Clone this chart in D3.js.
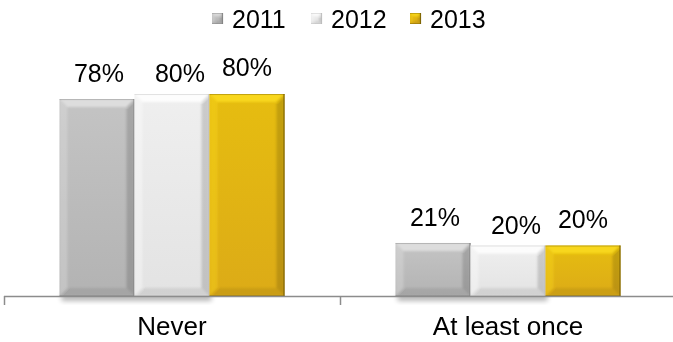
<!DOCTYPE html>
<html>
<head>
<meta charset="utf-8">
<script src="https://cdn.jsdelivr.net/npm/d3@7"></script>
<style>
  html, body { margin: 0; padding: 0; background: #fff; }
  svg { display: block; font-family: "Liberation Sans", Arial, sans-serif; }
</style>
</head>
<body>
<svg id="chart" width="673" height="342"></svg>
<script>
// Survey answers by year
const categories = ["Never", "At least once"];
const years = ["2011", "2012", "2013"];
const values2011 = [78, 21];
const values2012 = [80, 20];
const values2013 = [80, 20];
const seriesValues = [values2011, values2012, values2013];

// Bar palettes: gradient top/bottom, bevel highlight, edge
const palette = [
  { top: "#c4c4c4", bottom: "#b3b3b3", hi: "#e2e2e2", edge: "#7d7d7d" },
  { top: "#efefef", bottom: "#e3e3e3", hi: "#ffffff", edge: "#b9b9b9" },
  { top: "#e6bd10", bottom: "#dcab17", hi: "#fbdc20", edge: "#6e5800" }
];
// Small per-series label nudges
const labelDx = [2, 8, 0];
const labelDy = [0, 5, -1];

const svg = d3.select("#chart");
const W = 673, H = 342;
const baseY = 296;

const x = d3.scaleBand().domain(categories).range([4, 676]).padding(0);
const xs = d3.scaleBand().domain(years).range([0, x.bandwidth()]).paddingInner(0).paddingOuter(0.74);
const y = d3.scaleLinear().domain([0, 100]).range([baseY, 43.5]);

const defs = svg.append("defs");
palette.forEach((p, i) => {
  const g = defs.append("linearGradient").attr("id", "grad" + i)
    .attr("x1", 0).attr("y1", 0).attr("x2", 0).attr("y2", 1);
  g.append("stop").attr("offset", "0%").attr("stop-color", p.top);
  g.append("stop").attr("offset", "100%").attr("stop-color", p.bottom);
});
defs.append("filter").attr("id", "soft").attr("x", "-10%").attr("y", "-10%").attr("width", "120%").attr("height", "120%")
  .append("feGaussianBlur").attr("stdDeviation", 1.3);
defs.append("filter").attr("id", "shadow").attr("x", "-20%").attr("y", "-50%").attr("width", "140%").attr("height", "200%")
  .append("feGaussianBlur").attr("stdDeviation", 2.5);

// Build flat bar list
const bars = [];
categories.forEach((c, ci) => {
  years.forEach((yr, si) => {
    bars.push({ cat: c, year: yr, si, value: seriesValues[si][ci] });
  });
});

// Soft shadow under the bars
const shadowG = svg.append("g");
categories.forEach(c => {
  const x0 = x(c) + xs(years[0]);
  const x1 = x(c) + xs(years[1]) + xs.bandwidth();
  shadowG.append("rect")
    .attr("x", x0 + 2).attr("y", baseY - 2)
    .attr("width", x1 - x0).attr("height", 7)
    .attr("fill", "#000").attr("opacity", 0.28)
    .attr("filter", "url(#shadow)");
});

// Bevelled bar drawing
function bevel(g, x0, y0, w, h, i, size) {
  const x1 = x0 + w, y1 = y0 + h;
  const b = Math.min(size, w / 2, h / 2);
  const clipId = "clip" + g.attr("data-k");
  defs.append("clipPath").attr("id", clipId)
    .append("rect").attr("x", x0).attr("y", y0).attr("width", w).attr("height", h);
  g.append("rect").attr("x", x0).attr("y", y0).attr("width", w).attr("height", h)
    .attr("fill", "url(#grad" + i + ")");
  const ov = g.append("g").attr("clip-path", "url(#" + clipId + ")")
    .append("g").attr("filter", "url(#soft)");
  const poly = pts => pts.map(p => p.join(",")).join(" ");
  ov.append("polygon").attr("points", poly([[x0, y0], [x1, y0], [x1 - b, y0 + b], [x0 + b, y0 + b]]))
    .attr("fill", palette[i].hi).attr("opacity", 0.85);
  ov.append("polygon").attr("points", poly([[x0, y0], [x0 + b, y0 + b], [x0 + b, y1 - b], [x0, y1]]))
    .attr("fill", palette[i].hi).attr("opacity", 0.35);
  ov.append("polygon").attr("points", poly([[x1, y0], [x1, y1], [x1 - b, y1 - b], [x1 - b, y0 + b]]))
    .attr("fill", "#000").attr("opacity", 0.15);
  ov.append("polygon").attr("points", poly([[x0, y1], [x0 + b, y1 - b], [x1 - b, y1 - b], [x1, y1]]))
    .attr("fill", "#000").attr("opacity", 0.08);
  // crisp outer edges
  g.append("line").attr("x1", x1 - 0.5).attr("x2", x1 - 0.5).attr("y1", y0).attr("y2", y1)
    .attr("stroke", palette[i].edge).attr("stroke-width", 1.2).attr("opacity", 0.8);
  g.append("line").attr("x1", x0).attr("x2", x1).attr("y1", y0 + 0.5).attr("y2", y0 + 0.5)
    .attr("stroke", palette[i].edge).attr("stroke-width", 1).attr("opacity", 0.35);
  g.append("line").attr("x1", x0).attr("x2", x1).attr("y1", y1 - 0.5).attr("y2", y1 - 0.5)
    .attr("stroke", palette[i].edge).attr("stroke-width", 1).attr("opacity", 0.4);
}

const barG = svg.append("g");
bars.forEach((d, k) => {
  const g = barG.append("g").attr("data-k", k);
  const bx = x(d.cat) + xs(d.year);
  const by = y(d.value);
  bevel(g, bx, by, xs.bandwidth(), baseY - by, d.si, 8);
});

// Value labels
svg.append("g").selectAll("text").data(bars).join("text")
  .attr("x", d => x(d.cat) + xs(d.year) + xs.bandwidth() / 2 + labelDx[d.si])
  .attr("y", d => y(d.value) - 17 + labelDy[d.si])
  .attr("text-anchor", "middle")
  .attr("font-size", 25)
  .attr("fill", "#000")
  .text(d => d.value + "%");

// Category axis: baseline with ticks at category boundaries
const axisColor = "#8c8c8c";
svg.append("line").attr("x1", x.range()[0]).attr("x2", W).attr("y1", baseY + 0.5).attr("y2", baseY + 0.5)
  .attr("stroke", axisColor).attr("stroke-width", 1.5);
const bounds = categories.map(c => x(c));
svg.append("g").selectAll("line").data(bounds).join("line")
  .attr("x1", d => d + 0.5).attr("x2", d => d + 0.5)
  .attr("y1", baseY).attr("y2", baseY + 9)
  .attr("stroke", axisColor).attr("stroke-width", 1.5);

const axis = svg.append("g").attr("transform", `translate(0,${baseY})`)
  .call(d3.axisBottom(x).tickSize(0).tickPadding(21));
axis.select(".domain").remove();
axis.selectAll("text").attr("font-size", 26).attr("fill", "#000")
  .attr("font-family", "Liberation Sans, Arial, sans-serif");

// Legend
const legendX = [212, 311, 410];
const legend = svg.append("g");
years.forEach((yr, i) => {
  const lg = legend.append("g").attr("data-k", "L" + i);
  bevel(lg, legendX[i], 13, 11, 11, i, 3);
  legend.append("text").attr("x", legendX[i] + 20).attr("y", 28)
    .attr("font-size", 25).attr("fill", "#000").text(yr);
});
</script>
</body>
</html>
